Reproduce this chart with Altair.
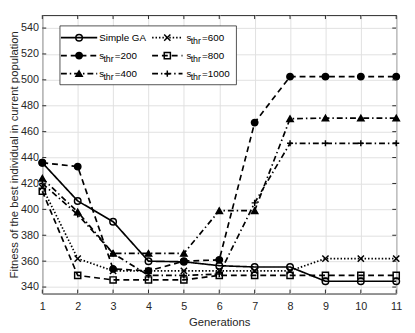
import altair as alt
import pandas as pd

# ---- data ----
generations = list(range(1, 12))
simple_ga = [436, 406.5, 390.5, 360, 359.5, 356.5, 355.5, 355.5, 344.5, 344.5, 344.5]
s200 = [436, 433, 354, 352.5, 360, 361, 467, 502.5, 502.5, 502.5, 502.5]
s400 = [424, 398, 366, 366, 366, 399, 399, 470, 470.5, 470.5, 470.5]
s600 = [417, 362, 352.5, 352.5, 352.5, 352.5, 352.5, 352.5, 362, 362, 362]
s800 = [414, 349, 345.5, 345.5, 345.5, 349, 349, 349, 349, 349, 349]
s1000 = [420, 396, 366, 349, 349, 350, 405, 451, 451, 451, 451]

series_keys = ["Simple GA", "200", "400", "600", "800", "1000"]
series_values = [simple_ga, s200, s400, s600, s800, s1000]
y_ticks = [340, 360, 380, 400, 420, 440, 460, 480, 500, 520, 540]

# ---- styles ----
INK = "#262626"
FONT = "Liberation Sans"
W, H = 361, 284
dashes = [[1, 0], [6, 4], [6, 3, 1.5, 3], [1.5, 2], [6, 4], [6, 3, 1.5, 3]]
X_PATH = "M-1,-1L1,1M-1,1L1,-1"
PLUS_PATH = "M-1,0L1,0M0,-1L0,1"
shapes = ["circle", "circle", "triangle-up", X_PATH, "square", PLUS_PATH]
fills = ["transparent", "black", "black", "black", "transparent", "black"]
sizes = [44, 38, 68, 40, 38, 50]

rows = []
for key, vals in zip(series_keys, series_values):
    for g, v in zip(generations, vals):
        rows.append({"gen": g, "fitness": v, "series": key})
df = pd.DataFrame(rows)

dash_enc = alt.StrokeDash("series:N", scale=alt.Scale(domain=series_keys, range=dashes), legend=None)
shape_enc = alt.Shape("series:N", scale=alt.Scale(domain=series_keys, range=shapes), legend=None)
fill_enc = alt.Fill("series:N", scale=alt.Scale(domain=series_keys, range=fills), legend=None)
size_enc = alt.Size("series:N", scale=alt.Scale(domain=series_keys, range=sizes), legend=None)

xs = alt.Scale(domain=[1, 11], nice=False, zero=False)
ys = alt.Scale(domain=[335, 550], nice=False, zero=False)
x_axis = alt.Axis(values=generations, format="d", tickCount=11, labelOverlap=False,
                  labelFlush=False, title="Generations")
y_axis = alt.Axis(values=y_ticks, format="d", tickCount=11, labelOverlap=False,
                  title="Fitness of the best individual in current population")
X_ENC = alt.X("gen:Q", scale=xs, axis=x_axis, title="Generations")
Y_ENC = alt.Y("fitness:Q", scale=ys, axis=y_axis,
              title="Fitness of the best individual in current population")

base = alt.Chart(df)
lines = base.mark_line(color="black", strokeWidth=1.7).encode(
    x=X_ENC, y=Y_ENC, strokeDash=dash_enc, detail="series:N",
)
points = base.mark_point(filled=True, stroke="black", strokeWidth=1.5, opacity=1).encode(
    x=X_ENC, y=Y_ENC, shape=shape_enc, fill=fill_enc, size=size_enc,
)

# inward ticks like the reference's box axes
xt = pd.DataFrame({"gen": generations})
yt = pd.DataFrame({"fitness": y_ticks})
tick_b = alt.Chart(xt).mark_rule(color=INK, strokeWidth=1).encode(
    x=X_ENC, y=alt.value(H), y2=alt.value(H - 4))
tick_t = alt.Chart(xt).mark_rule(color=INK, strokeWidth=1).encode(
    x=X_ENC, y=alt.value(0), y2=alt.value(4))
tick_l = alt.Chart(yt).mark_rule(color=INK, strokeWidth=1).encode(
    y=Y_ENC, x=alt.value(0), x2=alt.value(4))
tick_r = alt.Chart(yt).mark_rule(color=INK, strokeWidth=1).encode(
    y=Y_ENC, x=alt.value(W), x2=alt.value(W - 4))

# ---- hand-drawn legend (2 columns x 3 rows) ----
BOX = (18, 11, 198, 71)
col_line = [(19, 56), (112, 143)]
col_text = [58, 147]
row_y = [23, 41.3, 59.7]
leg_rows, txt_rows, sub_rows = [], [], []
for i, key in enumerate(series_keys):
    c, r = i // 3, i % 3
    x0, x1 = col_line[c]
    y = row_y[r]
    leg_rows.append({"series": key, "lx": x0, "lx2": x1, "lm": (x0 + x1) / 2, "ly": y})
    tx = col_text[c]
    if key == "Simple GA":
        txt_rows.append({"txt": key, "lx": tx, "ly": y})
    else:
        txt_rows.append({"txt": "s", "lx": tx, "ly": y})
        sub_rows.append({"txt": "thr", "lx": tx + 4.3, "ly": y + 3.5})
        txt_rows.append({"txt": "=" + key, "lx": tx + 16, "ly": y})
leg_df = pd.DataFrame(leg_rows)

legend_box = alt.Chart(pd.DataFrame({"a": [0]})).mark_rect(
    fill="white", stroke=INK, strokeWidth=0.8).encode(
    x=alt.value(BOX[0]), x2=alt.value(BOX[2]), y=alt.value(BOX[1]), y2=alt.value(BOX[3]))
legend_lines = alt.Chart(leg_df).mark_rule(color="black", strokeWidth=1.7).encode(
    x=alt.X("lx:Q", scale=None), x2="lx2:Q", y=alt.Y("ly:Q", scale=None),
    strokeDash=dash_enc)
legend_pts = alt.Chart(leg_df).mark_point(filled=True, stroke="black", strokeWidth=1.5, opacity=1).encode(
    x=alt.X("lm:Q", scale=None), y=alt.Y("ly:Q", scale=None),
    shape=shape_enc, fill=fill_enc, size=size_enc)
legend_txt = alt.Chart(pd.DataFrame(txt_rows)).mark_text(
    align="left", baseline="middle", font=FONT, fontSize=10, color="black").encode(
    x=alt.X("lx:Q", scale=None), y=alt.Y("ly:Q", scale=None), text="txt:N")
legend_sub = alt.Chart(pd.DataFrame(sub_rows)).mark_text(
    align="left", baseline="middle", font=FONT, fontSize=9, color="black").encode(
    x=alt.X("lx:Q", scale=None), y=alt.Y("ly:Q", scale=None), text="txt:N")

chart = alt.layer(
    lines, points, tick_b, tick_t, tick_l, tick_r,
    legend_box, legend_lines, legend_pts, legend_txt, legend_sub,
).properties(
    width=W, height=H,
    autosize=alt.AutoSizeParams(type="none"),
    padding={"left": 35, "top": 4, "right": 11, "bottom": 37},
    background="white",
).configure_view(
    stroke=INK, strokeWidth=1,
).configure_axis(
    grid=True, gridColor="#e0e0e0", gridWidth=1,
    domain=False, ticks=False, tickSize=0,
    labelFont=FONT, labelFontSize=11, labelColor=INK,
    labelOverlap=False, labelFlush=False, labelBound=False,
    titleFont=FONT, titleFontSize=11.5, titleFontWeight="normal", titleColor=INK,
    titleLimit=400,
).configure_axisX(
    labelPadding=7, titlePadding=6,
).configure_axisY(
    labelPadding=4, titlePadding=1,
)

chart.save("out.html", embed_options={"renderer": "svg", "actions": False})
